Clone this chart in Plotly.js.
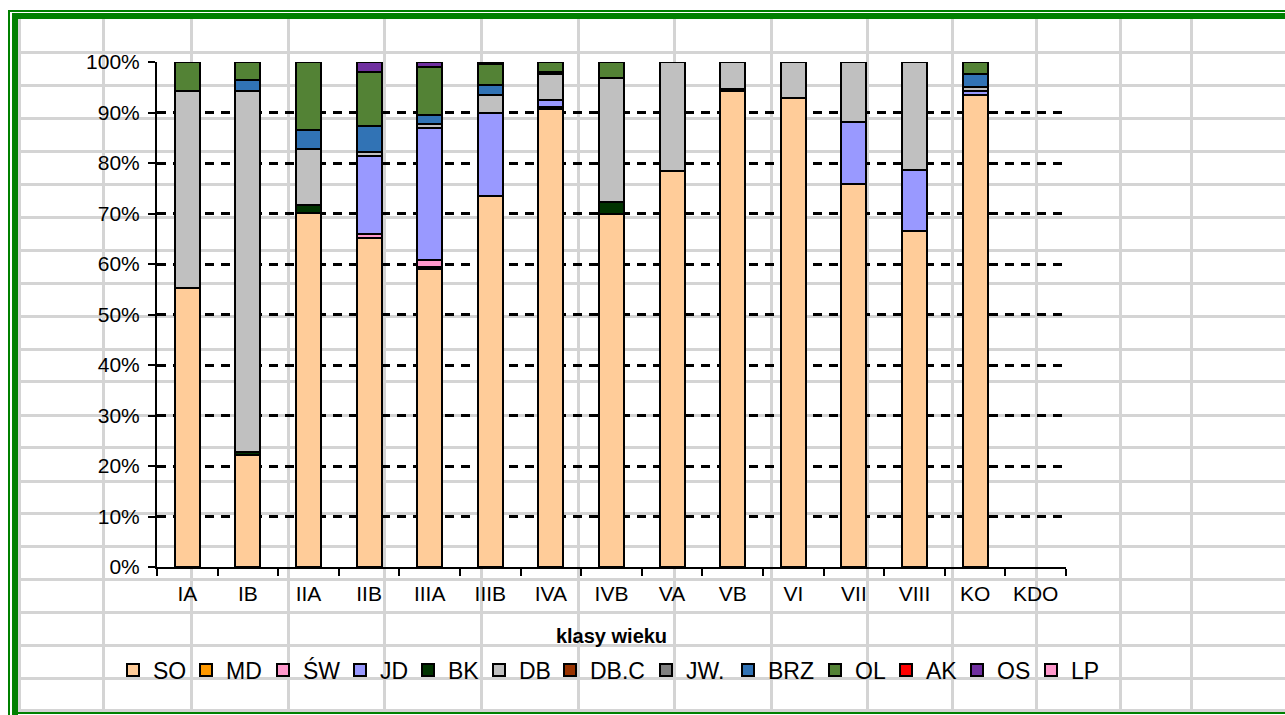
<!DOCTYPE html>
<html><head><meta charset="utf-8">
<script src="https://cdn.plot.ly/plotly-3.0.1.min.js"></script>
<style>
html,body{margin:0;padding:0;background:#fff;}
#wrap{position:relative;width:1285px;height:715px;overflow:hidden;background:#fff;}
#bg{position:absolute;left:0;top:0;width:1285px;height:715px;}
#chart{position:absolute;left:0;top:0;width:1285px;height:715px;}
.l{position:absolute;background:#d4d4d4;}
.g{position:absolute;background:#008000;}
</style></head><body>
<div id="wrap"><div id="bg"></div><div id="chart"></div></div>
<script>
// ---- data ----
const categories = ['IA','IB','IIA','IIB','IIIA','IIIB','IVA','IVB','VA','VB','VI','VII','VIII','KO','KDO'];
const seriesNames = ['SO','MD','ŚW','JD','BK','DB','DB.C','JW.','BRZ','OL','AK','OS','LP'];
const SO  = [55.2, 22.2, 70.1, 65.1, 59.0, 73.5, 90.7, 70.0, 78.5, 94.2, 92.8, 75.8, 66.6, 93.5, 0];
const MD  = [0,    0,    0,    0,    0.4,  0,    0.4,  0,    0,    0,    0,    0,    0,    0,    0];
const SW  = [0,    0,    0,    0.8,  1.4,  0,    0,    0,    0,    0,    0,    0,    0,    0,    0];
const JD  = [0,    0,    0,    15.4, 26.1, 16.5, 1.3,  0,    0,    0,    0,    12.4, 12.0, 0.8,  0];
const BK  = [0,    0.5,  1.6,  0,    0,    0,    0,    2.2,  0,    0.5,  0,    0,    0,    0,    0];
const DB  = [39.1, 71.6, 11.1, 0.8,  0.8,  3.5,  5.2,  24.7, 21.5, 5.3,  7.2,  11.8, 21.4, 0.7,  0];
const DBC = [0,    0,    0,    0,    0,    0,    0,    0,    0,    0,    0,    0,    0,    0,    0];
const JW  = [0,    0,    0,    0,    0,    0,    0.4,  0,    0,    0,    0,    0,    0,    0,    0];
const BRZ = [0,    2.2,  3.7,  5.2,  1.9,  1.9,  0,    0,    0,    0,    0,    0,    0,    2.6,  0];
const OL  = [5.7,  3.5,  13.5, 10.8, 9.4,  4.2,  2.0,  3.1,  0,    0,    0,    0,    0,    2.4,  0];
const AK  = [0,    0,    0,    0,    0,    0,    0,    0,    0,    0,    0,    0,    0,    0,    0];
const OS  = [0,    0,    0,    1.9,  1.0,  0.4,  0,    0,    0,    0,    0,    0,    0,    0,    0];
const LP  = [0,    0,    0,    0,    0,    0,    0,    0,    0,    0,    0,    0,    0,    0,    0];
const tickValues = [0,10,20,30,40,50,60,70,80,90,100];
const tickLabels = ['0%','10%','20%','30%','40%','50%','60%','70%','80%','90%','100%'];

// ---- styles ----
const seriesValues = [SO, MD, SW, JD, BK, DB, DBC, JW, BRZ, OL, AK, OS, LP];
const colors = ['#FFCC99','#FF9900','#FF99CC','#9999FF','#003300','#C0C0C0','#993300','#808080','#3173B5','#538235','#FF0000','#7030A0','#FF99CC'];
const legendWidths = [28,32,32,23,26,26,51,37,42,26,26,29,32];

// ---- spreadsheet background (decoration) ----
const bg = document.getElementById('bg');
function box(cls, x, y, w, h){ const d=document.createElement('div'); d.className=cls; d.style.left=x+'px'; d.style.top=y+'px'; d.style.width=w+'px'; d.style.height=h+'px'; bg.appendChild(d); }
const vLines = [19.5,103,191,288,384,481,578,674,771,867,952,1036,1120,1191];
const hLines = [52.5,85.5,118.5,151.5,184.5,217,250.5,283.5,316,349,381.6,415,447.6,481,513.6,546.6,579,612,645,678,710.5];
vLines.forEach(x=>box('l', x-1.5, 19, 3, 694));
hLines.forEach(y=>box('l', 18, y-1.5, 1267, 3));
box('g', 8, 10, 1277, 2);
box('g', 8, 10, 2, 705);
box('g', 12, 13, 1273, 6);
box('g', 12, 13, 6, 702);
box('g', 18, 712, 1267, 2);

// ---- chart ----
const traces = seriesNames.map((name, i) => ({
  type: 'bar', name: name, x: categories,
  y: seriesValues[i].map(v => v === 0 ? null : v),
  marker: {color: colors[i], line: {color: '#000', width: 2}},
  legendwidth: legendWidths[i],
  hoverinfo: 'name+y'
}));

const layout = {
  width: 1285, height: 715,
  margin: {l: 157, r: 219, t: 62, b: 148, pad: 0},
  paper_bgcolor: 'rgba(0,0,0,0)', plot_bgcolor: 'rgba(0,0,0,0)',
  barmode: 'stack', bargap: 0.59,
  font: {family: '"Liberation Sans", Arial, sans-serif', size: 21, color: '#000'},
  showlegend: true,
  legend: {orientation: 'h', x: -0.0484, xanchor: 'left', y: -0.204, yanchor: 'middle',
           font: {size: 23}, traceorder: 'normal', bgcolor: 'rgba(0,0,0,0)', borderwidth: 0},
  xaxis: {type: 'category', range: [-0.5, 14.5], showline: true, linecolor: '#000', linewidth: 2,
          ticks: 'outside', tickson: 'boundaries', ticklen: 7, tickwidth: 2, tickcolor: '#000',
          ticklabelstandoff: 7,
          showgrid: false, zeroline: false,
          title: {text: '<b>klasy wieku</b>', font: {size: 20}, standoff: 25}},
  yaxis: {range: [0, 100], tickvals: tickValues, ticktext: tickLabels, showline: true, linecolor: '#000', linewidth: 2,
          ticks: 'outside', ticklen: 7, tickwidth: 2, tickcolor: '#000', ticklabelstandoff: 4,
          showgrid: true, gridcolor: '#000', gridwidth: 2.5, griddash: '9px,7px', zeroline: false}
};

Plotly.newPlot('chart', traces, layout, {displayModeBar: false, responsive: false});
</script>
</body></html>
